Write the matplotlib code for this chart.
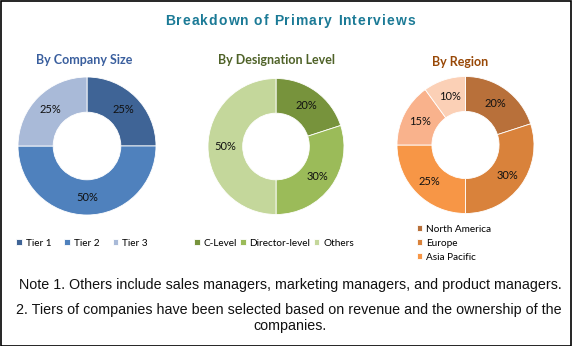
import matplotlib
matplotlib.use("Agg")
import matplotlib.pyplot as plt
from matplotlib.patches import Rectangle
from matplotlib.font_manager import FontProperties
from matplotlib.textpath import TextToPath

# data
size_labels = ["Tier 1", "Tier 2", "Tier 3"]
size_values = [25, 50, 25]
size_colors = ["#3F6496", "#4F81BD", "#A9BAD8"]

desig_labels = ["C-Level", "Director-level", "Others"]
desig_values = [20, 30, 50]
desig_colors = ["#77933C", "#9BBB59", "#C4D79B"]

region_labels = ["North America", "Europe", "Asia Pacific", "RoW", "Middle East & Africa"]
region_values = [20, 30, 25, 15, 10]
region_colors = ["#B8703A", "#D9823B", "#F79646", "#F9B28C", "#FBD0B6"]

title = "Breakdown of Primary Interviews"

W, H = 572, 346
fig = plt.figure(figsize=(W / 100, H / 100), dpi=100)
fig.patch.set_facecolor("white")
fig.patches.append(Rectangle((0.5 / W, 0.5 / H), 1 - 1.5 / W, 1 - 1.5 / H, transform=fig.transFigure,
                             fill=False, edgecolor="black", linewidth=1.2))


def donut(cx, cy, r, values, colors):
    # cx, cy, r in pixels (top-left origin)
    ax = fig.add_axes([(cx - r) / W, (H - cy - r) / H, 2 * r / W, 2 * r / H])
    wedges, _, autotexts = ax.pie(values, colors=colors, startangle=90, counterclock=False,
                                  radius=1, autopct="%d%%", pctdistance=0.75,
                                  wedgeprops=dict(width=0.51, edgecolor="white", linewidth=0.6),
                                  textprops=dict(fontsize=8, family="Lato", color="#111111"))
    ax.set_xlim(-1, 1)
    ax.set_ylim(-1, 1)
    ax.set_aspect("auto")
    ax.axis("off")
    return wedges


w1 = donut(87, 146, 69, size_values, size_colors)
w2 = donut(276, 146.5, 68, desig_values, desig_colors)
w3 = donut(465.5, 145, 68.5, region_values, region_colors)

# spaced-out title, letters placed one by one to span x=165..415 px
tprop = FontProperties(family="Liberation Sans", weight="bold", size=10)
ttp = TextToPath()
widths = [ttp.get_text_width_height_descent(c, tprop, ismath=False)[0] * 100 / 72 for c in title]
x0, x1 = 165, 415
gap = (x1 - x0 - sum(widths)) / (len(title) - 1)
x = x0
for c, wdt in zip(title, widths):
    fig.text(x / W, 1 - 21 / H, c, ha="left", va="center", fontproperties=tprop, color="#1B7A96")
    x += wdt + gap

sub_kw = dict(ha="center", va="center", fontsize=9, fontweight="bold", family="Lato")
fig.text(84 / W, 1 - 60 / H, "By Company Size", color="#3A5F9E", **sub_kw)
fig.text(277 / W, 1 - 60 / H, "By Designation Level", color="#4F6228", **sub_kw)
fig.text(460 / W, 1 - 62 / H, "By Region", color="#984807", **sub_kw)

leg_kw = dict(frameon=False, handlelength=0.55, handleheight=0.55,
              handletextpad=0.4, borderaxespad=0, prop={"family": "Lato", "size": 7.2})
fig.legend(w1, size_labels, loc="center", bbox_to_anchor=(82 / W, 1 - 243 / H), ncol=3,
           columnspacing=1.3, **leg_kw)
fig.legend(w2, desig_labels, loc="center", bbox_to_anchor=(274 / W, 1 - 243 / H), ncol=3,
           columnspacing=0.3, **leg_kw)
fig.legend(w3[:3], region_labels[:3], loc="upper left", bbox_to_anchor=(413 / W, 1 - 221 / H), ncol=1,
           labelspacing=0.5, **leg_kw)

note_kw = dict(ha="center", va="center", fontsize=10.3, family="Liberation Sans", color="#111111")
fig.text(290 / W, 1 - 285 / H,
         "Note 1. Others include sales managers, marketing managers, and product managers.", **note_kw)
fig.text(289 / W, 1 - 310 / H,
         "2. Tiers of companies have been selected based on revenue and the ownership of the", **note_kw)
fig.text(290 / W, 1 - 326 / H, "companies.", **note_kw)

fig.savefig("out.png", dpi=100)
